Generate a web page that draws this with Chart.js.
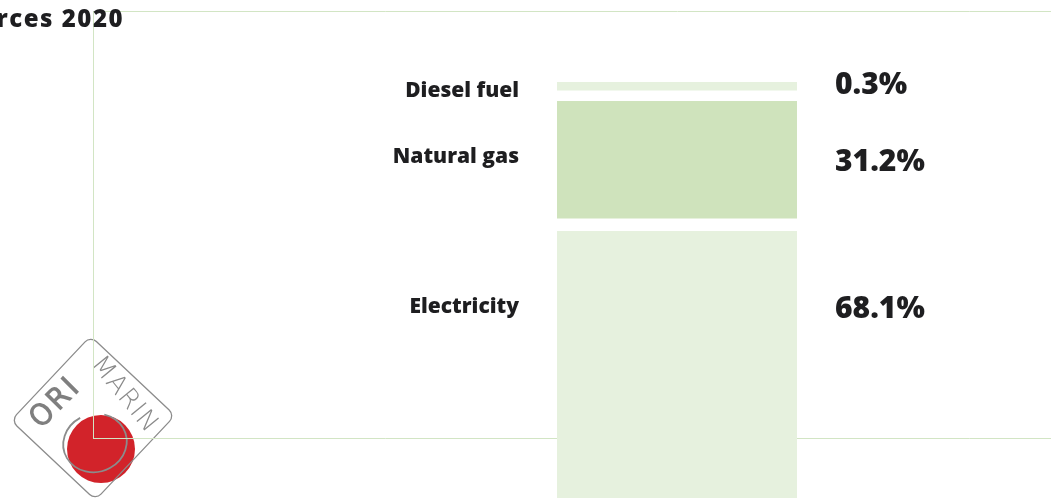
<!DOCTYPE html>
<html>
<head>
<meta charset="utf-8">
<title>Energy sources 2020</title>
<script src="https://cdn.jsdelivr.net/npm/chart.js"></script>
<style>
  html, body { margin: 0; padding: 0; background: #fff; overflow: hidden; }
  #wrap { position: relative; width: 1051px; height: 498px; overflow: hidden; }
  #energyChart { position: absolute; left: 0; top: 0; }
</style>
</head>
<body>
<div id="wrap"><canvas id="energyChart" width="1261" height="520"></canvas></div>
<script>
var years = ['2020'];
var sources = ['Diesel fuel', 'Natural gas', 'Electricity'];
var shares = [0.3, 31.2, 68.1];

// colours per source, same order as above
var fills = ['#e6f1de', '#cfe3bc', '#e6f1de'];
var gridColor = '#d2e5c4';
var inkColor = '#1e1e20';

// white gaps above / below each segment (px)
var gapTop = [6.5, 6.5, 6.5];
var gapBottom = [4.5, 6.5, 6.5];

// small vertical tweaks for the side labels (px)
var nameNudge = [6, -3, -60];
var valueNudge = [0, 3, -57];

// stack from the bottom up: electricity first, diesel on top
var datasets = [];
for (var i = sources.length - 1; i >= 0; i--) {
    datasets.push({
        label: sources[i],
        data: [shares[i]],
        backgroundColor: fills[i],
        borderColor: '#ffffff',
        borderWidth: { top: gapTop[i], bottom: gapBottom[i], left: 0, right: 0 },
        borderSkipped: false,
        minBarLength: 19,
        barThickness: 240,
        clip: false,
        stack: 'energy'
    });
}

function drawMark(ctx) {
    ctx.save();
    ctx.fillStyle = '#d2232a';
    ctx.beginPath();
    ctx.arc(101, 449, 34, 0, Math.PI * 2);
    ctx.fill();

    ctx.strokeStyle = '#8c8c8c';
    ctx.lineWidth = 1.8;
    ctx.beginPath();
    ctx.ellipse(95, 443, 32, 29, -0.3, -1.0, 4.5);
    ctx.stroke();

    ctx.translate(93, 418);
    ctx.rotate(Math.PI / 4 - 0.03);
    ctx.lineWidth = 1.3;
    ctx.beginPath();
    ctx.roundRect(-58, -58, 116, 116, 8);
    ctx.stroke();
    ctx.restore();

    ctx.save();
    ctx.strokeStyle = '#7f7f7f';
    ctx.lineWidth = 2.2;
    ctx.textAlign = 'center';
    ctx.textBaseline = 'middle';
    ctx.translate(56, 403);
    ctx.rotate(-Math.PI / 4);
    ctx.font = '300 28px "DejaVu Sans"';
    ctx.letterSpacing = '3px';
    ctx.strokeText('ORI', 0, 0);
    ctx.restore();

    ctx.save();
    ctx.fillStyle = '#8a8a8a';
    ctx.textAlign = 'center';
    ctx.textBaseline = 'middle';
    ctx.translate(124, 395);
    ctx.rotate(Math.PI / 4 + 0.1);
    ctx.font = '200 26px "DejaVu Sans"';
    ctx.letterSpacing = '1px';
    ctx.fillText('MARIN', 0, 0);
    ctx.restore();
}

var backdrop = {
    id: 'backdrop',
    beforeDraw: function (chart) {
        drawMark(chart.ctx);
    },
    afterDraw: function (chart) {
        var ctx = chart.ctx;
        ctx.save();
        ctx.fillStyle = inkColor;
        ctx.font = '800 24px "Open Sans"';
        ctx.letterSpacing = '1.5px';
        ctx.textAlign = 'right';
        ctx.textBaseline = 'middle';
        ctx.fillText('Energy sources 2020', chart.chartArea.left + 31, chart.chartArea.top + 9);
        ctx.restore();
    }
};

var sideLabels = {
    id: 'sideLabels',
    afterDatasetsDraw: function (chart) {
        var ctx = chart.ctx;
        ctx.save();
        ctx.fillStyle = inkColor;
        ctx.textBaseline = 'middle';
        chart.data.datasets.forEach(function (ds, di) {
            var bar = chart.getDatasetMeta(di).data[0];
            var k = sources.indexOf(ds.label);
            var mid = (bar.y + bar.base) / 2;
            var half = bar.width / 2;
            ctx.font = '800 21px "Open Sans"';
            ctx.textAlign = 'right';
            ctx.fillText(ds.label, bar.x - half - 38, mid + nameNudge[k]);
            ctx.font = '800 30px "Open Sans"';
            ctx.textAlign = 'left';
            ctx.fillText(ds.data[0].toFixed(1) + '%', bar.x + half + 38, mid + valueNudge[k]);
        });
        ctx.restore();
    }
};

var ctx = document.getElementById('energyChart').getContext('2d');
var chartInstance = new Chart(ctx, {
    type: 'bar',
    data: {
        labels: years,
        datasets: datasets
    },
    options: {
        responsive: false,
        animation: false,
        layout: {
            padding: { left: 93, top: 11, right: 0, bottom: 82 }
        },
        plugins: {
            legend: { display: false },
            tooltip: { enabled: false }
        },
        scales: {
            x: {
                display: false,
                stacked: true
            },
            y: {
                stacked: true,
                min: 16.9,
                max: 119.4,
                ticks: { display: false },
                grid: { color: gridColor, lineWidth: 1, drawTicks: false },
                border: { display: true, color: gridColor, width: 1 },
                afterBuildTicks: function (axis) {
                    axis.ticks = [{ value: axis.min }, { value: axis.max }];
                }
            }
        }
    },
    plugins: [backdrop, sideLabels]
});
</script>
</body>
</html>
